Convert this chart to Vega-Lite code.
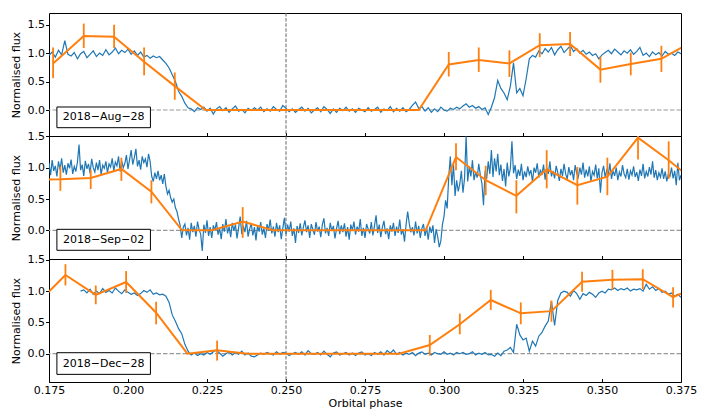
{
"$schema":"https://vega.github.io/schema/vega-lite/v6.json",
"padding":{"left":9,"top":12,"right":5,"bottom":5},
"bounds":"flush",
"spacing":0,
"config":{
 "view":{"stroke":"black","strokeWidth":1},
 "font":"DejaVu Sans",
 "axis":{"grid":false,"domain":false,"ticks":true,"tickColor":"black","tickWidth":1,"labelFontSize":11,"labelColor":"black","labelFont":"DejaVu Sans","titleFont":"DejaVu Sans","titleFontSize":11,"titleFontWeight":"normal","titleColor":"black","labelFlush":false,"labelOverlap":false},
 "axisY":{"tickSize":3.5,"labelPadding":1,"titlePadding":6},
 "axisX":{"tickSize":-3.5,"labelPadding":6,"titlePadding":2}
},
"datasets":{
"a":[{"x":0.175,"y":0.96},{"x":0.176,"y":1.02},{"x":0.177,"y":0.93},{"x":0.178,"y":1.05},{"x":0.179,"y":0.97},{"x":0.180,"y":1.22},{"x":0.181,"y":0.98},{"x":0.182,"y":0.95},{"x":0.183,"y":1.01},{"x":0.184,"y":0.90},{"x":0.185,"y":0.99},{"x":0.186,"y":1.03},{"x":0.187,"y":0.92},{"x":0.188,"y":0.98},{"x":0.189,"y":1.04},{"x":0.190,"y":0.94},{"x":0.191,"y":1.00},{"x":0.192,"y":0.96},{"x":0.193,"y":1.06},{"x":0.194,"y":0.97},{"x":0.195,"y":1.02},{"x":0.196,"y":1.09},{"x":0.197,"y":0.99},{"x":0.198,"y":1.05},{"x":0.199,"y":1.01},{"x":0.200,"y":1.07},{"x":0.201,"y":0.98},{"x":0.202,"y":1.04},{"x":0.203,"y":0.96},{"x":0.204,"y":1.02},{"x":0.205,"y":0.93},{"x":0.206,"y":0.96},{"x":0.207,"y":0.91},{"x":0.208,"y":0.95},{"x":0.209,"y":0.92},{"x":0.210,"y":0.94},{"x":0.211,"y":0.88},{"x":0.212,"y":0.82},{"x":0.213,"y":0.74},{"x":0.214,"y":0.62},{"x":0.215,"y":0.50},{"x":0.216,"y":0.33},{"x":0.217,"y":0.24},{"x":0.218,"y":0.12},{"x":0.219,"y":0.04},{"x":0.220,"y":0.02},{"x":0.221,"y":-0.03},{"x":0.222,"y":0.04},{"x":0.223,"y":0.01},{"x":0.224,"y":0.05},{"x":0.225,"y":-0.02},{"x":0.226,"y":0.03},{"x":0.227,"y":-0.07},{"x":0.228,"y":0.02},{"x":0.229,"y":0.06},{"x":0.230,"y":-0.01},{"x":0.231,"y":0.04},{"x":0.232,"y":-0.04},{"x":0.233,"y":0.02},{"x":0.234,"y":0.07},{"x":0.235,"y":-0.02},{"x":0.236,"y":0.01},{"x":0.237,"y":-0.05},{"x":0.238,"y":0.03},{"x":0.239,"y":-0.01},{"x":0.240,"y":0.04},{"x":0.241,"y":0.00},{"x":0.242,"y":0.05},{"x":0.243,"y":-0.03},{"x":0.244,"y":0.02},{"x":0.245,"y":-0.02},{"x":0.246,"y":0.06},{"x":0.247,"y":0.01},{"x":0.248,"y":-0.02},{"x":0.249,"y":0.08},{"x":0.250,"y":0.03},{"x":0.251,"y":-0.03},{"x":0.252,"y":0.02},{"x":0.253,"y":-0.04},{"x":0.254,"y":0.01},{"x":0.255,"y":0.05},{"x":0.256,"y":-0.02},{"x":0.257,"y":0.03},{"x":0.258,"y":-0.05},{"x":0.259,"y":0.00},{"x":0.260,"y":0.04},{"x":0.261,"y":-0.03},{"x":0.262,"y":0.06},{"x":0.263,"y":0.01},{"x":0.264,"y":-0.06},{"x":0.265,"y":0.02},{"x":0.266,"y":-0.04},{"x":0.267,"y":0.03},{"x":0.268,"y":-0.01},{"x":0.269,"y":0.05},{"x":0.270,"y":-0.02},{"x":0.271,"y":0.02},{"x":0.272,"y":-0.04},{"x":0.273,"y":0.03},{"x":0.274,"y":0.00},{"x":0.275,"y":-0.03},{"x":0.276,"y":0.04},{"x":0.277,"y":-0.02},{"x":0.278,"y":0.01},{"x":0.279,"y":0.05},{"x":0.280,"y":-0.04},{"x":0.281,"y":0.02},{"x":0.282,"y":-0.01},{"x":0.283,"y":0.06},{"x":0.284,"y":-0.03},{"x":0.285,"y":0.03},{"x":0.286,"y":-0.02},{"x":0.287,"y":0.04},{"x":0.288,"y":-0.03},{"x":0.289,"y":0.01},{"x":0.290,"y":0.08},{"x":0.291,"y":0.14},{"x":0.292,"y":0.03},{"x":0.293,"y":0.06},{"x":0.294,"y":-0.02},{"x":0.295,"y":0.04},{"x":0.296,"y":-0.04},{"x":0.297,"y":0.02},{"x":0.298,"y":-0.03},{"x":0.299,"y":0.05},{"x":0.300,"y":0.00},{"x":0.301,"y":-0.02},{"x":0.302,"y":0.03},{"x":0.303,"y":0.01},{"x":0.304,"y":0.05},{"x":0.305,"y":0.02},{"x":0.306,"y":0.07},{"x":0.307,"y":0.11},{"x":0.308,"y":0.05},{"x":0.309,"y":0.08},{"x":0.310,"y":0.03},{"x":0.311,"y":0.06},{"x":0.312,"y":0.01},{"x":0.313,"y":0.04},{"x":0.314,"y":-0.08},{"x":0.315,"y":0.05},{"x":0.316,"y":0.22},{"x":0.317,"y":0.52},{"x":0.318,"y":0.38},{"x":0.319,"y":0.30},{"x":0.320,"y":0.18},{"x":0.321,"y":0.42},{"x":0.322,"y":0.83},{"x":0.323,"y":0.30},{"x":0.324,"y":0.38},{"x":0.325,"y":0.25},{"x":0.326,"y":0.55},{"x":0.327,"y":0.90},{"x":0.328,"y":0.96},{"x":0.329,"y":0.93},{"x":0.330,"y":1.04},{"x":0.331,"y":0.99},{"x":0.332,"y":1.08},{"x":0.333,"y":1.02},{"x":0.334,"y":1.10},{"x":0.335,"y":0.97},{"x":0.336,"y":1.06},{"x":0.337,"y":1.12},{"x":0.338,"y":1.01},{"x":0.339,"y":1.07},{"x":0.340,"y":1.13},{"x":0.341,"y":1.03},{"x":0.342,"y":1.08},{"x":0.343,"y":1.00},{"x":0.344,"y":1.05},{"x":0.345,"y":0.98},{"x":0.346,"y":1.02},{"x":0.347,"y":0.96},{"x":0.348,"y":0.99},{"x":0.349,"y":0.90},{"x":0.350,"y":0.97},{"x":0.351,"y":1.01},{"x":0.352,"y":1.05},{"x":0.353,"y":0.99},{"x":0.354,"y":1.07},{"x":0.355,"y":1.02},{"x":0.356,"y":0.97},{"x":0.357,"y":1.04},{"x":0.358,"y":1.00},{"x":0.359,"y":1.06},{"x":0.360,"y":0.98},{"x":0.361,"y":1.03},{"x":0.362,"y":1.10},{"x":0.363,"y":0.96},{"x":0.364,"y":1.00},{"x":0.365,"y":0.94},{"x":0.366,"y":1.02},{"x":0.367,"y":0.97},{"x":0.368,"y":1.01},{"x":0.369,"y":0.95},{"x":0.370,"y":1.03},{"x":0.371,"y":0.98},{"x":0.372,"y":1.00},{"x":0.373,"y":0.96},{"x":0.374,"y":1.02},{"x":0.375,"y":0.99}],
"b":[{"x":0.1750,"y":1.08},{"x":0.1755,"y":0.88},{"x":0.1760,"y":1.12},{"x":0.1765,"y":0.95},{"x":0.1770,"y":1.03},{"x":0.1775,"y":0.86},{"x":0.1780,"y":1.10},{"x":0.1785,"y":0.97},{"x":0.1790,"y":1.15},{"x":0.1795,"y":0.92},{"x":0.1800,"y":1.04},{"x":0.1805,"y":0.89},{"x":0.1810,"y":1.07},{"x":0.1815,"y":0.99},{"x":0.1820,"y":1.13},{"x":0.1825,"y":0.90},{"x":0.1830,"y":1.02},{"x":0.1835,"y":0.94},{"x":0.1840,"y":1.09},{"x":0.1845,"y":1.37},{"x":0.1850,"y":0.96},{"x":0.1855,"y":1.05},{"x":0.1860,"y":0.87},{"x":0.1865,"y":1.11},{"x":0.1870,"y":0.98},{"x":0.1875,"y":1.06},{"x":0.1880,"y":0.91},{"x":0.1885,"y":1.14},{"x":0.1890,"y":1.00},{"x":0.1895,"y":0.93},{"x":0.1900,"y":1.08},{"x":0.1905,"y":0.96},{"x":0.1910,"y":1.12},{"x":0.1915,"y":0.89},{"x":0.1920,"y":1.04},{"x":0.1925,"y":0.99},{"x":0.1930,"y":1.10},{"x":0.1935,"y":0.92},{"x":0.1940,"y":1.06},{"x":0.1945,"y":1.01},{"x":0.1950,"y":1.15},{"x":0.1955,"y":0.95},{"x":0.1960,"y":1.09},{"x":0.1965,"y":1.03},{"x":0.1970,"y":1.18},{"x":0.1975,"y":0.94},{"x":0.1980,"y":1.11},{"x":0.1985,"y":1.00},{"x":0.1990,"y":1.07},{"x":0.1995,"y":1.20},{"x":0.2000,"y":0.98},{"x":0.2005,"y":1.13},{"x":0.2010,"y":1.28},{"x":0.2015,"y":1.05},{"x":0.2020,"y":1.16},{"x":0.2025,"y":1.30},{"x":0.2030,"y":1.02},{"x":0.2035,"y":1.12},{"x":0.2040,"y":0.97},{"x":0.2045,"y":1.18},{"x":0.2050,"y":1.08},{"x":0.2055,"y":1.14},{"x":0.2060,"y":1.01},{"x":0.2065,"y":1.22},{"x":0.2070,"y":1.10},{"x":0.2075,"y":0.86},{"x":0.2080,"y":0.78},{"x":0.2085,"y":0.92},{"x":0.2090,"y":0.82},{"x":0.2095,"y":0.95},{"x":0.2100,"y":0.80},{"x":0.2105,"y":0.88},{"x":0.2110,"y":0.74},{"x":0.2115,"y":0.90},{"x":0.2120,"y":0.70},{"x":0.2125,"y":0.58},{"x":0.2130,"y":0.64},{"x":0.2135,"y":0.52},{"x":0.2140,"y":0.45},{"x":0.2145,"y":0.50},{"x":0.2150,"y":0.36},{"x":0.2155,"y":0.30},{"x":0.2160,"y":0.18},{"x":0.2165,"y":0.08},{"x":0.2170,"y":-0.12},{"x":0.2175,"y":0.05},{"x":0.2180,"y":0.10},{"x":0.2185,"y":-0.08},{"x":0.2190,"y":0.04},{"x":0.2195,"y":-0.15},{"x":0.2200,"y":0.12},{"x":0.2205,"y":-0.03},{"x":0.2210,"y":0.07},{"x":0.2215,"y":-0.10},{"x":0.2220,"y":0.14},{"x":0.2225,"y":0.01},{"x":0.2230,"y":-0.06},{"x":0.2235,"y":-0.33},{"x":0.2240,"y":0.09},{"x":0.2245,"y":-0.04},{"x":0.2250,"y":0.16},{"x":0.2255,"y":-0.09},{"x":0.2260,"y":0.05},{"x":0.2265,"y":-0.12},{"x":0.2270,"y":0.08},{"x":0.2275,"y":0.00},{"x":0.2280,"y":0.13},{"x":0.2285,"y":-0.07},{"x":0.2290,"y":0.03},{"x":0.2295,"y":-0.14},{"x":0.2300,"y":0.10},{"x":0.2305,"y":-0.02},{"x":0.2310,"y":0.18},{"x":0.2315,"y":-0.05},{"x":0.2320,"y":0.06},{"x":0.2325,"y":-0.11},{"x":0.2330,"y":0.12},{"x":0.2335,"y":-0.01},{"x":0.2340,"y":0.09},{"x":0.2345,"y":-0.13},{"x":0.2350,"y":0.04},{"x":0.2355,"y":0.22},{"x":0.2360,"y":-0.06},{"x":0.2365,"y":0.07},{"x":0.2370,"y":-0.03},{"x":0.2375,"y":0.15},{"x":0.2380,"y":-0.10},{"x":0.2385,"y":0.02},{"x":0.2390,"y":0.11},{"x":0.2395,"y":-0.08},{"x":0.2400,"y":0.05},{"x":0.2405,"y":-0.16},{"x":0.2410,"y":0.08},{"x":0.2415,"y":-0.02},{"x":0.2420,"y":0.13},{"x":0.2425,"y":-0.07},{"x":0.2430,"y":0.03},{"x":0.2435,"y":-0.12},{"x":0.2440,"y":0.10},{"x":0.2445,"y":0.00},{"x":0.2450,"y":0.17},{"x":0.2455,"y":-0.05},{"x":0.2460,"y":0.06},{"x":0.2465,"y":-0.10},{"x":0.2470,"y":0.12},{"x":0.2475,"y":-0.03},{"x":0.2480,"y":0.08},{"x":0.2485,"y":-0.14},{"x":0.2490,"y":0.04},{"x":0.2495,"y":0.20},{"x":0.2500,"y":-0.06},{"x":0.2505,"y":0.09},{"x":0.2510,"y":-0.02},{"x":0.2515,"y":0.14},{"x":0.2520,"y":-0.09},{"x":0.2525,"y":0.03},{"x":0.2530,"y":-0.20},{"x":0.2535,"y":0.07},{"x":0.2540,"y":-0.04},{"x":0.2545,"y":0.11},{"x":0.2550,"y":-0.08},{"x":0.2555,"y":0.05},{"x":0.2560,"y":0.16},{"x":0.2565,"y":-0.03},{"x":0.2570,"y":0.08},{"x":0.2575,"y":-0.12},{"x":0.2580,"y":0.10},{"x":0.2585,"y":0.01},{"x":0.2590,"y":-0.07},{"x":0.2595,"y":0.13},{"x":0.2600,"y":-0.02},{"x":0.2605,"y":0.06},{"x":0.2610,"y":-0.11},{"x":0.2615,"y":0.09},{"x":0.2620,"y":0.19},{"x":0.2625,"y":-0.05},{"x":0.2630,"y":0.04},{"x":0.2635,"y":-0.09},{"x":0.2640,"y":0.12},{"x":0.2645,"y":-0.01},{"x":0.2650,"y":0.07},{"x":0.2655,"y":-0.13},{"x":0.2660,"y":0.03},{"x":0.2665,"y":0.15},{"x":0.2670,"y":-0.06},{"x":0.2675,"y":0.08},{"x":0.2680,"y":-0.03},{"x":0.2685,"y":0.11},{"x":0.2690,"y":-0.10},{"x":0.2695,"y":0.05},{"x":0.2700,"y":-0.15},{"x":0.2705,"y":0.09},{"x":0.2710,"y":0.00},{"x":0.2715,"y":0.14},{"x":0.2720,"y":-0.07},{"x":0.2725,"y":0.06},{"x":0.2730,"y":-0.02},{"x":0.2735,"y":0.18},{"x":0.2740,"y":-0.09},{"x":0.2745,"y":0.04},{"x":0.2750,"y":-0.12},{"x":0.2755,"y":0.10},{"x":0.2760,"y":0.02},{"x":0.2765,"y":-0.05},{"x":0.2770,"y":0.13},{"x":0.2775,"y":-0.08},{"x":0.2780,"y":0.07},{"x":0.2785,"y":0.24},{"x":0.2790,"y":-0.04},{"x":0.2795,"y":0.09},{"x":0.2800,"y":-0.11},{"x":0.2805,"y":0.05},{"x":0.2810,"y":0.15},{"x":0.2815,"y":-0.06},{"x":0.2820,"y":0.03},{"x":0.2825,"y":-0.14},{"x":0.2830,"y":0.08},{"x":0.2835,"y":-0.02},{"x":0.2840,"y":0.12},{"x":0.2845,"y":-0.09},{"x":0.2850,"y":0.06},{"x":0.2855,"y":-0.04},{"x":0.2860,"y":0.17},{"x":0.2865,"y":-0.07},{"x":0.2870,"y":0.02},{"x":0.2875,"y":-0.18},{"x":0.2880,"y":0.09},{"x":0.2885,"y":0.30},{"x":0.2890,"y":0.11},{"x":0.2895,"y":-0.03},{"x":0.2900,"y":0.05},{"x":0.2905,"y":-0.08},{"x":0.2910,"y":0.14},{"x":0.2915,"y":-0.05},{"x":0.2920,"y":0.07},{"x":0.2925,"y":-0.12},{"x":0.2930,"y":0.03},{"x":0.2935,"y":0.10},{"x":0.2940,"y":-0.09},{"x":0.2945,"y":0.04},{"x":0.2950,"y":-0.15},{"x":0.2955,"y":0.06},{"x":0.2960,"y":-0.04},{"x":0.2965,"y":0.08},{"x":0.2970,"y":-0.20},{"x":0.2975,"y":0.02},{"x":0.2980,"y":-0.10},{"x":0.2985,"y":-0.27},{"x":0.2990,"y":-0.17},{"x":0.2995,"y":0.09},{"x":0.3000,"y":0.22},{"x":0.3005,"y":0.48},{"x":0.3010,"y":0.35},{"x":0.3015,"y":0.85},{"x":0.3020,"y":1.18},{"x":0.3025,"y":0.72},{"x":0.3030,"y":1.05},{"x":0.3035,"y":0.55},{"x":0.3040,"y":0.80},{"x":0.3045,"y":0.62},{"x":0.3050,"y":0.74},{"x":0.3055,"y":0.95},{"x":0.3060,"y":0.60},{"x":0.3065,"y":0.83},{"x":0.3070,"y":1.50},{"x":0.3075,"y":0.78},{"x":0.3080,"y":1.02},{"x":0.3085,"y":0.86},{"x":0.3090,"y":1.12},{"x":0.3095,"y":0.80},{"x":0.3100,"y":0.93},{"x":0.3105,"y":0.84},{"x":0.3110,"y":1.06},{"x":0.3115,"y":0.88},{"x":0.3120,"y":0.75},{"x":0.3125,"y":0.40},{"x":0.3130,"y":0.95},{"x":0.3135,"y":0.82},{"x":0.3140,"y":1.10},{"x":0.3145,"y":0.90},{"x":0.3150,"y":1.28},{"x":0.3155,"y":0.85},{"x":0.3160,"y":1.15},{"x":0.3165,"y":0.94},{"x":0.3170,"y":1.22},{"x":0.3175,"y":0.88},{"x":0.3180,"y":1.05},{"x":0.3185,"y":0.79},{"x":0.3190,"y":0.98},{"x":0.3195,"y":0.70},{"x":0.3200,"y":1.08},{"x":0.3205,"y":0.86},{"x":0.3210,"y":0.99},{"x":0.3215,"y":1.42},{"x":0.3220,"y":0.91},{"x":0.3225,"y":1.04},{"x":0.3230,"y":0.82},{"x":0.3235,"y":0.97},{"x":0.3240,"y":0.87},{"x":0.3245,"y":1.06},{"x":0.3250,"y":0.80},{"x":0.3255,"y":0.94},{"x":0.3260,"y":0.85},{"x":0.3265,"y":1.02},{"x":0.3270,"y":0.89},{"x":0.3275,"y":0.96},{"x":0.3280,"y":0.78},{"x":0.3285,"y":1.00},{"x":0.3290,"y":0.92},{"x":0.3295,"y":1.07},{"x":0.3300,"y":0.84},{"x":0.3305,"y":0.97},{"x":0.3310,"y":0.88},{"x":0.3315,"y":1.05},{"x":0.3320,"y":0.81},{"x":0.3325,"y":0.99},{"x":0.3330,"y":0.90},{"x":0.3335,"y":1.10},{"x":0.3340,"y":0.86},{"x":0.3345,"y":0.95},{"x":0.3350,"y":0.83},{"x":0.3355,"y":1.03},{"x":0.3360,"y":0.92},{"x":0.3365,"y":0.79},{"x":0.3370,"y":0.98},{"x":0.3375,"y":0.87},{"x":0.3380,"y":1.06},{"x":0.3385,"y":0.90},{"x":0.3390,"y":0.82},{"x":0.3395,"y":1.01},{"x":0.3400,"y":0.88},{"x":0.3405,"y":0.96},{"x":0.3410,"y":0.80},{"x":0.3415,"y":1.04},{"x":0.3420,"y":0.91},{"x":0.3425,"y":0.85},{"x":0.3430,"y":1.00},{"x":0.3435,"y":0.89},{"x":0.3440,"y":1.08},{"x":0.3445,"y":0.84},{"x":0.3450,"y":0.97},{"x":0.3455,"y":0.86},{"x":0.3460,"y":1.02},{"x":0.3465,"y":0.78},{"x":0.3470,"y":0.94},{"x":0.3475,"y":0.88},{"x":0.3480,"y":1.05},{"x":0.3485,"y":0.83},{"x":0.3490,"y":0.99},{"x":0.3495,"y":0.60},{"x":0.3500,"y":0.92},{"x":0.3505,"y":1.03},{"x":0.3510,"y":0.85},{"x":0.3515,"y":0.96},{"x":0.3520,"y":0.89},{"x":0.3525,"y":1.07},{"x":0.3530,"y":0.82},{"x":0.3535,"y":0.95},{"x":0.3540,"y":0.87},{"x":0.3545,"y":1.00},{"x":0.3550,"y":0.80},{"x":0.3555,"y":0.93},{"x":0.3560,"y":0.86},{"x":0.3565,"y":1.04},{"x":0.3570,"y":0.90},{"x":0.3575,"y":0.84},{"x":0.3580,"y":0.98},{"x":0.3585,"y":0.81},{"x":0.3590,"y":0.95},{"x":0.3595,"y":0.88},{"x":0.3600,"y":1.02},{"x":0.3605,"y":0.85},{"x":0.3610,"y":0.93},{"x":0.3615,"y":0.79},{"x":0.3620,"y":0.97},{"x":0.3625,"y":0.87},{"x":0.3630,"y":1.06},{"x":0.3635,"y":0.83},{"x":0.3640,"y":0.94},{"x":0.3645,"y":0.86},{"x":0.3650,"y":1.01},{"x":0.3655,"y":0.89},{"x":0.3660,"y":1.10},{"x":0.3665,"y":0.84},{"x":0.3670,"y":0.96},{"x":0.3675,"y":0.80},{"x":0.3680,"y":0.92},{"x":0.3685,"y":0.85},{"x":0.3690,"y":0.99},{"x":0.3695,"y":0.82},{"x":0.3700,"y":0.94},{"x":0.3705,"y":0.78},{"x":0.3710,"y":0.90},{"x":0.3715,"y":0.86},{"x":0.3720,"y":1.00},{"x":0.3725,"y":0.83},{"x":0.3730,"y":0.95},{"x":0.3735,"y":0.72},{"x":0.3740,"y":1.08},{"x":0.3745,"y":0.80},{"x":0.3750,"y":0.88}],
"c":[{"x":0.185,"y":1.00},{"x":0.186,"y":1.02},{"x":0.187,"y":0.97},{"x":0.188,"y":1.03},{"x":0.189,"y":0.95},{"x":0.190,"y":1.00},{"x":0.191,"y":0.96},{"x":0.192,"y":1.04},{"x":0.193,"y":0.98},{"x":0.194,"y":1.01},{"x":0.195,"y":0.97},{"x":0.196,"y":1.05},{"x":0.197,"y":1.00},{"x":0.198,"y":0.96},{"x":0.199,"y":1.02},{"x":0.200,"y":0.98},{"x":0.201,"y":0.95},{"x":0.202,"y":0.97},{"x":0.203,"y":0.93},{"x":0.204,"y":0.96},{"x":0.205,"y":1.01},{"x":0.206,"y":0.98},{"x":0.207,"y":1.02},{"x":0.208,"y":0.95},{"x":0.209,"y":0.97},{"x":0.210,"y":0.94},{"x":0.211,"y":0.95},{"x":0.212,"y":0.92},{"x":0.213,"y":0.82},{"x":0.214,"y":0.62},{"x":0.215,"y":0.52},{"x":0.216,"y":0.40},{"x":0.217,"y":0.32},{"x":0.218,"y":0.15},{"x":0.219,"y":0.04},{"x":0.220,"y":-0.02},{"x":0.221,"y":0.01},{"x":0.222,"y":-0.03},{"x":0.223,"y":0.00},{"x":0.224,"y":-0.02},{"x":0.225,"y":0.02},{"x":0.226,"y":-0.01},{"x":0.227,"y":0.03},{"x":0.228,"y":0.06},{"x":0.229,"y":0.01},{"x":0.230,"y":-0.04},{"x":0.231,"y":0.00},{"x":0.232,"y":0.03},{"x":0.233,"y":-0.02},{"x":0.234,"y":0.02},{"x":0.235,"y":-0.01},{"x":0.236,"y":0.04},{"x":0.237,"y":-0.02},{"x":0.238,"y":0.01},{"x":0.239,"y":-0.04},{"x":0.240,"y":-0.05},{"x":0.241,"y":-0.02},{"x":0.242,"y":0.01},{"x":0.243,"y":-0.01},{"x":0.244,"y":0.02},{"x":0.245,"y":0.00},{"x":0.246,"y":-0.02},{"x":0.247,"y":0.03},{"x":0.248,"y":-0.01},{"x":0.249,"y":0.02},{"x":0.250,"y":0.01},{"x":0.251,"y":-0.03},{"x":0.252,"y":0.00},{"x":0.253,"y":0.02},{"x":0.254,"y":-0.01},{"x":0.255,"y":0.03},{"x":0.256,"y":-0.02},{"x":0.257,"y":0.05},{"x":0.258,"y":0.00},{"x":0.259,"y":-0.01},{"x":0.260,"y":0.02},{"x":0.261,"y":-0.02},{"x":0.262,"y":0.04},{"x":0.263,"y":-0.01},{"x":0.264,"y":-0.05},{"x":0.265,"y":0.01},{"x":0.266,"y":0.03},{"x":0.267,"y":-0.02},{"x":0.268,"y":0.00},{"x":0.269,"y":0.02},{"x":0.270,"y":-0.02},{"x":0.271,"y":0.01},{"x":0.272,"y":-0.03},{"x":0.273,"y":0.01},{"x":0.274,"y":0.03},{"x":0.275,"y":-0.02},{"x":0.276,"y":0.00},{"x":0.277,"y":-0.03},{"x":0.278,"y":0.02},{"x":0.279,"y":-0.01},{"x":0.280,"y":0.03},{"x":0.281,"y":-0.02},{"x":0.282,"y":0.05},{"x":0.283,"y":0.01},{"x":0.284,"y":0.06},{"x":0.285,"y":-0.01},{"x":0.286,"y":0.02},{"x":0.287,"y":-0.02},{"x":0.288,"y":0.01},{"x":0.289,"y":-0.01},{"x":0.290,"y":0.02},{"x":0.291,"y":-0.03},{"x":0.292,"y":0.01},{"x":0.293,"y":0.03},{"x":0.294,"y":-0.01},{"x":0.295,"y":0.01},{"x":0.296,"y":-0.02},{"x":0.297,"y":0.02},{"x":0.298,"y":0.00},{"x":0.299,"y":-0.01},{"x":0.300,"y":0.03},{"x":0.301,"y":-0.01},{"x":0.302,"y":0.01},{"x":0.303,"y":-0.02},{"x":0.304,"y":0.02},{"x":0.305,"y":0.00},{"x":0.306,"y":0.02},{"x":0.307,"y":-0.01},{"x":0.308,"y":0.00},{"x":0.309,"y":0.03},{"x":0.310,"y":-0.02},{"x":0.311,"y":0.01},{"x":0.312,"y":-0.01},{"x":0.313,"y":0.02},{"x":0.314,"y":-0.02},{"x":0.315,"y":-0.01},{"x":0.316,"y":-0.04},{"x":0.317,"y":0.01},{"x":0.318,"y":-0.03},{"x":0.319,"y":0.04},{"x":0.320,"y":0.06},{"x":0.321,"y":0.10},{"x":0.322,"y":0.02},{"x":0.323,"y":0.47},{"x":0.324,"y":0.30},{"x":0.325,"y":0.22},{"x":0.326,"y":0.25},{"x":0.327,"y":0.04},{"x":0.328,"y":0.20},{"x":0.329,"y":0.12},{"x":0.330,"y":0.28},{"x":0.331,"y":0.34},{"x":0.332,"y":0.44},{"x":0.333,"y":0.52},{"x":0.334,"y":0.84},{"x":0.335,"y":0.45},{"x":0.336,"y":0.85},{"x":0.337,"y":0.97},{"x":0.338,"y":1.00},{"x":0.339,"y":0.98},{"x":0.340,"y":0.92},{"x":0.341,"y":1.01},{"x":0.342,"y":0.96},{"x":0.343,"y":0.87},{"x":0.344,"y":0.96},{"x":0.345,"y":0.93},{"x":0.346,"y":0.98},{"x":0.347,"y":0.95},{"x":0.348,"y":0.90},{"x":0.349,"y":0.97},{"x":0.350,"y":1.00},{"x":0.351,"y":0.97},{"x":0.352,"y":1.03},{"x":0.353,"y":1.02},{"x":0.354,"y":1.05},{"x":0.355,"y":1.01},{"x":0.356,"y":1.04},{"x":0.357,"y":1.02},{"x":0.358,"y":1.05},{"x":0.359,"y":1.00},{"x":0.360,"y":1.03},{"x":0.361,"y":1.02},{"x":0.362,"y":1.04},{"x":0.363,"y":1.00},{"x":0.364,"y":1.11},{"x":0.365,"y":1.03},{"x":0.366,"y":1.07},{"x":0.367,"y":1.01},{"x":0.368,"y":1.04},{"x":0.369,"y":0.98},{"x":0.370,"y":1.00},{"x":0.371,"y":0.95},{"x":0.372,"y":0.97},{"x":0.373,"y":0.92},{"x":0.374,"y":0.95},{"x":0.375,"y":0.90}],
"oa":[{"x":0.1763,"y":0.82,"lo":0.56,"hi":1.10},{"x":0.1860,"y":1.30,"lo":1.09,"hi":1.52},{"x":0.1956,"y":1.29,"lo":1.09,"hi":1.50},{"x":0.2051,"y":0.85,"lo":0.61,"hi":1.10},{"x":0.2148,"y":0.42,"lo":0.18,"hi":0.66},{"x":0.2246,"y":0.0,"lo":null,"hi":null},{"x":0.2343,"y":0.0,"lo":null,"hi":null},{"x":0.2440,"y":0.0,"lo":null,"hi":null},{"x":0.2537,"y":0.0,"lo":null,"hi":null},{"x":0.2634,"y":0.0,"lo":null,"hi":null},{"x":0.2731,"y":0.0,"lo":null,"hi":null},{"x":0.2828,"y":0.0,"lo":null,"hi":null},{"x":0.2920,"y":0.0,"lo":null,"hi":null},{"x":0.3015,"y":0.80,"lo":0.59,"hi":1.02},{"x":0.3110,"y":0.88,"lo":0.67,"hi":1.10},{"x":0.3207,"y":0.82,"lo":0.58,"hi":1.05},{"x":0.3303,"y":1.14,"lo":0.93,"hi":1.35},{"x":0.3399,"y":1.16,"lo":0.95,"hi":1.37},{"x":0.3495,"y":0.71,"lo":0.48,"hi":0.94},{"x":0.3591,"y":0.81,"lo":0.61,"hi":1.01},{"x":0.3688,"y":0.90,"lo":0.67,"hi":1.13},{"x":0.3785,"y":1.20,"lo":null,"hi":null}],
"ob":[{"x":0.1690,"y":0.81,"lo":null,"hi":null},{"x":0.1786,"y":0.815,"lo":0.63,"hi":1.02},{"x":0.1882,"y":0.835,"lo":0.66,"hi":0.97},{"x":0.1979,"y":0.98,"lo":0.79,"hi":1.16},{"x":0.2074,"y":0.617,"lo":0.43,"hi":0.80},{"x":0.2171,"y":0.0,"lo":null,"hi":null},{"x":0.2266,"y":0.0,"lo":null,"hi":null},{"x":0.2363,"y":0.14,"lo":-0.12,"hi":0.37},{"x":0.2459,"y":0.0,"lo":null,"hi":null},{"x":0.2555,"y":0.0,"lo":null,"hi":null},{"x":0.2651,"y":0.0,"lo":null,"hi":null},{"x":0.2748,"y":0.0,"lo":null,"hi":null},{"x":0.2844,"y":0.0,"lo":null,"hi":null},{"x":0.2942,"y":0.0,"lo":null,"hi":null},{"x":0.3038,"y":1.17,"lo":0.96,"hi":1.39},{"x":0.3132,"y":0.80,"lo":0.56,"hi":1.03},{"x":0.3229,"y":0.55,"lo":0.27,"hi":0.80},{"x":0.3325,"y":0.975,"lo":0.67,"hi":1.28},{"x":0.3422,"y":0.72,"lo":0.41,"hi":1.01},{"x":0.3517,"y":0.856,"lo":0.56,"hi":1.16},{"x":0.3614,"y":1.48,"lo":1.13,"hi":1.83},{"x":0.3711,"y":1.118,"lo":0.82,"hi":1.42},{"x":0.3808,"y":0.72,"lo":null,"hi":null}],
"oc":[{"x":0.1706,"y":0.77,"lo":null,"hi":null},{"x":0.1802,"y":1.257,"lo":1.09,"hi":1.43},{"x":0.1898,"y":0.94,"lo":0.79,"hi":1.09},{"x":0.1994,"y":1.145,"lo":0.97,"hi":1.32},{"x":0.2089,"y":0.655,"lo":0.47,"hi":0.83},{"x":0.2188,"y":0.0,"lo":null,"hi":null},{"x":0.2282,"y":0.054,"lo":-0.11,"hi":0.21},{"x":0.2378,"y":0.0,"lo":null,"hi":null},{"x":0.2474,"y":0.0,"lo":null,"hi":null},{"x":0.2570,"y":0.0,"lo":null,"hi":null},{"x":0.2666,"y":0.0,"lo":null,"hi":null},{"x":0.2762,"y":0.0,"lo":null,"hi":null},{"x":0.2858,"y":0.0,"lo":null,"hi":null},{"x":0.2955,"y":0.139,"lo":-0.03,"hi":0.30},{"x":0.3050,"y":0.47,"lo":0.31,"hi":0.64},{"x":0.3148,"y":0.858,"lo":0.70,"hi":1.02},{"x":0.3243,"y":0.645,"lo":0.47,"hi":0.82},{"x":0.3340,"y":0.68,"lo":0.51,"hi":0.85},{"x":0.3437,"y":1.15,"lo":0.99,"hi":1.31},{"x":0.3533,"y":1.18,"lo":1.02,"hi":1.34},{"x":0.3629,"y":1.19,"lo":1.03,"hi":1.35},{"x":0.3725,"y":0.905,"lo":0.74,"hi":1.06},{"x":0.3821,"y":1.12,"lo":null,"hi":null}]
},
"vconcat":[
{"width":632,"height":123,"layer":[
 {"data":{"values":[{}]},"mark":{"type":"rule","color":"#999999","strokeWidth":1.2,"strokeDash":[4.5,2]},"encoding":{"y":{"datum":0}}},
 {"data":{"values":[{}]},"mark":{"type":"rule","color":"#666666","strokeWidth":1,"strokeDash":[3.5,1.6]},"encoding":{"x":{"datum":0.25}}},
 {"data":{"name":"a"},"mark":{"type":"line","color":"#1f77b4","strokeWidth":1.2,"clip":true},"encoding":{
   "x":{"field":"x","type":"quantitative","scale":{"domain":[0.175,0.375],"nice":false,"zero":false},"axis":{"values":[0.175,0.2,0.225,0.25,0.275,0.3,0.325,0.35,0.375],"labels":false,"title":null}},
   "y":{"field":"y","type":"quantitative","scale":{"domain":[-0.457,1.706],"nice":false,"zero":false},"axis":{"values":[0,0.5,1,1.5],"format":".1f","title":"Normalised flux"}}}},
 {"data":{"name":"oa"},"mark":{"type":"line","color":"#ff7f0e","strokeWidth":2,"clip":true},"encoding":{"x":{"field":"x","type":"quantitative"},"y":{"field":"y","type":"quantitative"}}},
 {"data":{"name":"oa"},"transform":[{"filter":"isValid(datum.lo)"}],"mark":{"type":"rule","color":"#ff7f0e","strokeWidth":1.8,"clip":true},"encoding":{"x":{"field":"x","type":"quantitative"},"y":{"field":"lo","type":"quantitative"},"y2":{"field":"hi"}}},
 {"data":{"values":[{}]},"mark":{"type":"rect","fill":"white","stroke":"black","strokeWidth":1},"encoding":{"x":{"datum":0.1775},"x2":{"datum":0.2071},"y":{"datum":0.053},"y2":{"datum":-0.311}}},
 {"data":{"values":[{}]},"mark":{"type":"text","text":"2018−Aug−28","fontSize":11,"font":"DejaVu Sans","color":"black","align":"center","baseline":"middle"},"encoding":{"x":{"datum":0.1923},"y":{"datum":-0.128}}}
]},
{"width":632,"height":123,"layer":[
 {"data":{"values":[{}]},"mark":{"type":"rule","color":"#999999","strokeWidth":1.2,"strokeDash":[4.5,2]},"encoding":{"y":{"datum":0}}},
 {"data":{"values":[{}]},"mark":{"type":"rule","color":"#666666","strokeWidth":1,"strokeDash":[3.5,1.6]},"encoding":{"x":{"datum":0.25}}},
 {"data":{"name":"b"},"mark":{"type":"line","color":"#1f77b4","strokeWidth":1.2,"clip":true},"encoding":{
   "x":{"field":"x","type":"quantitative","scale":{"domain":[0.175,0.375],"nice":false,"zero":false},"axis":{"values":[0.175,0.2,0.225,0.25,0.275,0.3,0.325,0.35,0.375],"labels":false,"title":null}},
   "y":{"field":"y","type":"quantitative","scale":{"domain":[-0.458,1.506],"nice":false,"zero":false},"axis":{"values":[0,0.5,1,1.5],"format":".1f","title":"Normalised flux"}}}},
 {"data":{"name":"ob"},"mark":{"type":"line","color":"#ff7f0e","strokeWidth":2,"clip":true},"encoding":{"x":{"field":"x","type":"quantitative"},"y":{"field":"y","type":"quantitative"}}},
 {"data":{"name":"ob"},"transform":[{"filter":"isValid(datum.lo)"}],"mark":{"type":"rule","color":"#ff7f0e","strokeWidth":1.8,"clip":true},"encoding":{"x":{"field":"x","type":"quantitative"},"y":{"field":"lo","type":"quantitative"},"y2":{"field":"hi"}}},
 {"data":{"values":[{}]},"mark":{"type":"rect","fill":"white","stroke":"black","strokeWidth":1},"encoding":{"x":{"datum":0.1775},"x2":{"datum":0.2071},"y":{"datum":0.016},"y2":{"datum":-0.319}}},
 {"data":{"values":[{}]},"mark":{"type":"text","text":"2018−Sep−02","fontSize":11,"font":"DejaVu Sans","color":"black","align":"center","baseline":"middle"},"encoding":{"x":{"datum":0.1923},"y":{"datum":-0.152}}}
]},
{"width":632,"height":123,"layer":[
 {"data":{"values":[{}]},"mark":{"type":"rule","color":"#999999","strokeWidth":1.2,"strokeDash":[4.5,2]},"encoding":{"y":{"datum":0}}},
 {"data":{"values":[{}]},"mark":{"type":"rule","color":"#666666","strokeWidth":1,"strokeDash":[3.5,1.6]},"encoding":{"x":{"datum":0.25}}},
 {"data":{"name":"c"},"mark":{"type":"line","color":"#1f77b4","strokeWidth":1.2,"clip":true},"encoding":{
   "x":{"field":"x","type":"quantitative","scale":{"domain":[0.175,0.375],"nice":false,"zero":false},"axis":{"values":[0.175,0.2,0.225,0.25,0.275,0.3,0.325,0.35,0.375],"format":".3f","title":"Orbital phase"}},
   "y":{"field":"y","type":"quantitative","scale":{"domain":[-0.452,1.513],"nice":false,"zero":false},"axis":{"values":[0,0.5,1,1.5],"format":".1f","title":"Normalised flux"}}}},
 {"data":{"name":"oc"},"mark":{"type":"line","color":"#ff7f0e","strokeWidth":2,"clip":true},"encoding":{"x":{"field":"x","type":"quantitative"},"y":{"field":"y","type":"quantitative"}}},
 {"data":{"name":"oc"},"transform":[{"filter":"isValid(datum.lo)"}],"mark":{"type":"rule","color":"#ff7f0e","strokeWidth":1.8,"clip":true},"encoding":{"x":{"field":"x","type":"quantitative"},"y":{"field":"lo","type":"quantitative"},"y2":{"field":"hi"}}},
 {"data":{"values":[{}]},"mark":{"type":"rect","fill":"white","stroke":"black","strokeWidth":1},"encoding":{"x":{"datum":0.1775},"x2":{"datum":0.2071},"y":{"datum":0.016},"y2":{"datum":-0.33}}},
 {"data":{"values":[{}]},"mark":{"type":"text","text":"2018−Dec−28","fontSize":11,"font":"DejaVu Sans","color":"black","align":"center","baseline":"middle"},"encoding":{"x":{"datum":0.1923},"y":{"datum":-0.157}}}
]}
]
}
